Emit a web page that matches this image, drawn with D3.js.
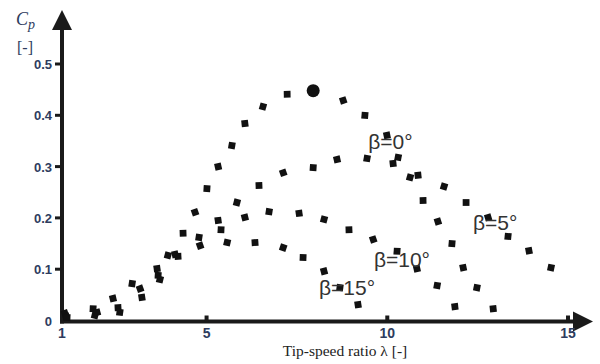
<!DOCTYPE html>
<html>
<head>
<meta charset="utf-8" />
<script src="https://d3js.org/d3.v7.min.js"></script>
<style>
  body { margin: 0; background: #fff; }
</style>
</head>
<body>
<div id="chart"></div>
<script>
// tip-speed ratio / power coefficient points
const beta0 = [
  [1.08, 0.014], [1.86, 0.023], [2.41, 0.043], [2.94, 0.072], [3.63, 0.101],
  [3.93, 0.127], [4.35, 0.170], [4.68, 0.211], [5.01, 0.257], [5.32, 0.300],
  [5.70, 0.341], [6.06, 0.384], [6.56, 0.417], [7.23, 0.441], [8.78, 0.429],
  [9.38, 0.400], [9.99, 0.361], [10.30, 0.318], [10.85, 0.283], [11.57, 0.261],
  [12.18, 0.230], [12.79, 0.201], [13.34, 0.164], [13.92, 0.136], [14.53, 0.103]
];
const beta5 = [
  [1.11, 0.008], [1.91, 0.010], [2.55, 0.025], [3.16, 0.062], [3.66, 0.088],
  [4.13, 0.129], [4.79, 0.162], [5.32, 0.195], [5.84, 0.230], [6.45, 0.263],
  [7.12, 0.288], [7.95, 0.298], [8.61, 0.314], [9.44, 0.316], [10.16, 0.306],
  [10.63, 0.279], [10.99, 0.234], [11.40, 0.193], [11.79, 0.150], [12.10, 0.103],
  [12.48, 0.064], [12.93, 0.023]
];
const beta10 = [
  [1.14, 0.006], [1.97, 0.016], [2.60, 0.016], [3.21, 0.045], [3.71, 0.080],
  [4.21, 0.125], [4.82, 0.146], [5.40, 0.177], [6.06, 0.201], [6.73, 0.212],
  [7.56, 0.209], [8.25, 0.197], [8.94, 0.177], [9.61, 0.158], [10.27, 0.135],
  [10.82, 0.101], [11.38, 0.068], [11.87, 0.027]
];
const beta15 = [
  [5.57, 0.152], [6.34, 0.152], [7.12, 0.142], [7.67, 0.123], [8.25, 0.096],
  [8.69, 0.064], [9.19, 0.031]
];
const maxPoint = [7.95, 0.448];

const series = [
  {name: "β=0°",  points: beta0,  label: [9.47, 0.334]},
  {name: "β=5°",  points: beta5,  label: [12.37, 0.176]},
  {name: "β=10°", points: beta10, label: [9.63, 0.104]},
  {name: "β=15°", points: beta15, label: [8.11, 0.050]}
];

const xTicks = [1, 5, 10, 15];
const yTicks = [0, 0.1, 0.2, 0.3, 0.4, 0.5];

const width = 600, height = 364;

const svg = d3.select("#chart").append("svg")
    .attr("width", width)
    .attr("height", height);

const x = d3.scaleLinear().domain([1, 15]).range([62, 568]);
const y = d3.scaleLinear().domain([0, 0.5]).range([320.5, 64]);

const tickColor = "#2e3c5e";

// axes
const axisY = y(0) + 1;
svg.append("line")
    .attr("x1", 60).attr("x2", 577)
    .attr("y1", axisY).attr("y2", axisY)
    .attr("stroke", "#1a1a1a").attr("stroke-width", 4);
svg.append("path")
    .attr("d", `M593,${axisY} L573,${axisY - 10} L573,${axisY + 10} Z`)
    .attr("fill", "#1a1a1a");

svg.append("line")
    .attr("x1", 62).attr("x2", 62)
    .attr("y1", axisY + 2).attr("y2", 26)
    .attr("stroke", "#1a1a1a").attr("stroke-width", 4);
svg.append("path")
    .attr("d", "M62,10 L52,30 L72,30 Z")
    .attr("fill", "#1a1a1a");

// x ticks
svg.selectAll(".xtick").data(xTicks.filter(d => d > 1)).join("line")
    .attr("x1", d => x(d)).attr("x2", d => x(d))
    .attr("y1", axisY).attr("y2", axisY - 6)
    .attr("stroke", "#1a1a1a").attr("stroke-width", 4);
svg.selectAll(".xlab").data(xTicks).join("text")
    .attr("x", d => x(d))
    .attr("y", 338)
    .attr("text-anchor", "middle")
    .attr("font-family", "Liberation Sans, Arial, sans-serif")
    .attr("font-size", 14)
    .attr("font-weight", "bold")
    .attr("fill", tickColor)
    .text(d => d);

// y ticks
svg.selectAll(".ytick").data(yTicks.filter(d => d > 0)).join("line")
    .attr("x1", 62).attr("x2", 55)
    .attr("y1", d => y(d)).attr("y2", d => y(d))
    .attr("stroke", "#1a1a1a").attr("stroke-width", 3);
svg.selectAll(".ylab").data(yTicks).join("text")
    .attr("x", 52)
    .attr("y", d => y(d) + 5)
    .attr("text-anchor", "end")
    .attr("font-family", "Liberation Sans, Arial, sans-serif")
    .attr("font-size", 13)
    .attr("font-weight", "bold")
    .attr("fill", tickColor)
    .text(d => d);

// axis titles
const cp = svg.append("text")
    .attr("x", 16).attr("y", 25)
    .attr("font-family", "Liberation Serif, Times New Roman, serif")
    .attr("font-style", "italic")
    .attr("font-size", 18)
    .attr("fill", tickColor);
cp.append("tspan").text("C");
cp.append("tspan").attr("font-size", 14).attr("dy", 4).text("p");

svg.append("text")
    .attr("x", 17).attr("y", 53)
    .attr("font-family", "Liberation Serif, Times New Roman, serif")
    .attr("font-size", 16)
    .attr("fill", tickColor)
    .text("[-]");

svg.append("text")
    .attr("x", 345).attr("y", 356)
    .attr("text-anchor", "middle")
    .attr("font-family", "Liberation Serif, Times New Roman, serif")
    .attr("font-size", 15.5)
    .attr("fill", "#222")
    .text("Tip-speed ratio λ [-]");

// measured points
const marker = d3.symbol().type(d3.symbolSquare).size(46);
series.forEach((s, si) => {
  svg.append("g").selectAll("path")
    .data(s.points)
    .join("path")
      .attr("d", marker)
      .attr("transform", (d, i) => `translate(${x(d[0])},${y(d[1])}) rotate(${(i * 23 + si * 11) % 40 - 20})`)
      .attr("fill", "#111");
});

svg.append("circle")
    .attr("cx", x(maxPoint[0]))
    .attr("cy", y(maxPoint[1]))
    .attr("r", 6.5)
    .attr("fill", "#111");

// curve labels
svg.selectAll(".blab").data(series).join("text")
    .attr("x", d => x(d.label[0]))
    .attr("y", d => y(d.label[1]))
    .attr("font-family", "Liberation Sans, Arial, sans-serif")
    .attr("font-size", 21)
    .attr("fill", "#333")
    .text(d => d.name);
</script>
</body>
</html>
